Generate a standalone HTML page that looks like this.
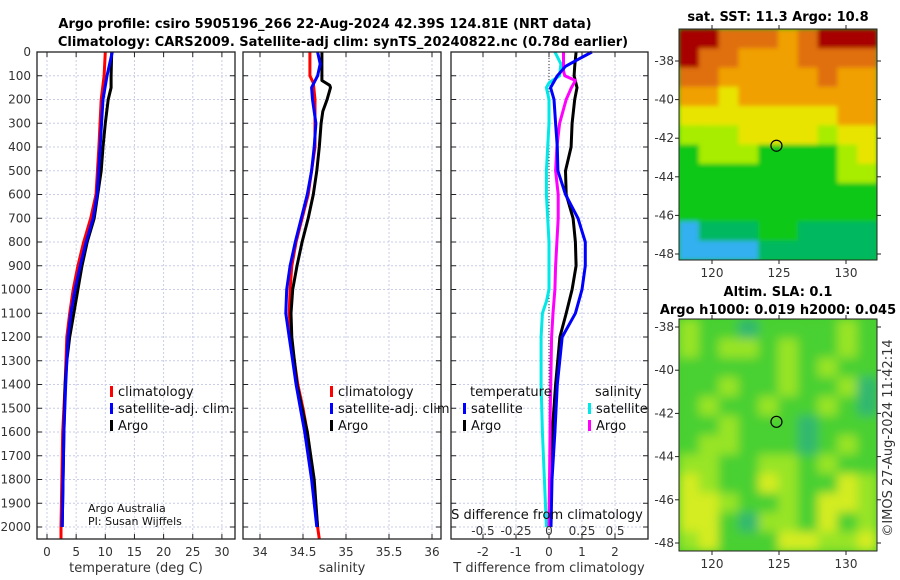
<!DOCTYPE html>
<html><head><meta charset="utf-8">
<style>
html,body{margin:0;padding:0;background:#fff;}
svg{display:block;font-family:"DejaVu Sans","Liberation Sans",sans-serif;}
.tk{font-size:12px;fill:#333;}
.lg{font-size:13px;fill:#111;}
.ttl{font-size:13px;font-weight:bold;fill:#000;}
</style></head>
<body>
<svg id="root" width="900" height="580" viewBox="0 0 900 580">
<text class="ttl" x="325" y="28" text-anchor="middle">Argo profile: csiro 5905196_266 22-Aug-2024 42.39S 124.81E (NRT data)</text>
<text class="ttl" x="343" y="46" text-anchor="middle">Climatology: CARS2009. Satellite-adj clim: synTS_20240822.nc (0.78d earlier)</text>
<g id="g1"></g>
<g id="g2"></g>
<g id="g3"></g>
<g id="m1"></g>
<g id="m2"></g>
<text class="ttl" x="778" y="21" text-anchor="middle">sat. SST: 11.3 Argo: 10.8</text>
<text class="ttl" x="778" y="296" text-anchor="middle">Altim. SLA: 0.1</text>
<text class="ttl" x="778" y="314" text-anchor="middle">Argo h1000: 0.019 h2000: 0.045</text>
<text class="tk" x="892" y="438" text-anchor="middle" transform="rotate(-90 892 438)" style="font-size:13px">©IMOS 27-Aug-2024 11:42:14</text>
</svg>
<script>
// ---- data ----
const depthsTemp = [0,100,150,200,300,400,500,600,700,800,900,1000,1100,1200,1300,1400,1600,2000];
const tempArgo   = [11.1,11.0,11.0,10.5,10.0,9.6,9.3,8.7,8.1,6.9,6.0,5.3,4.6,3.9,3.4,3.1,2.9,2.6];
const depthsClim = [0,100,200,400,600,700,800,900,1000,1100,1200,1400,1600,2000,2050];
const tempClim   = [10.0,9.8,9.3,8.9,8.4,7.5,6.3,5.3,4.5,3.9,3.4,3.1,2.7,2.4,2.4];
const depthsSat  = [0,100,200,400,600,700,800,900,1000,1100,1200,1400,1600,2000];
const tempSat    = [11.2,10.3,9.6,9.1,8.6,7.9,6.7,5.7,4.8,4.1,3.6,3.2,2.9,2.6];

const depthsSal  = [0,100,120,140,150,200,250,300,400,500,600,700,800,900,1000,1100,1200,1300,1400,1500,1600,1800,2000];
const salArgo    = [34.72,34.72,34.72,34.81,34.82,34.78,34.73,34.71,34.69,34.66,34.62,34.56,34.49,34.43,34.38,34.36,34.37,34.40,34.43,34.49,34.55,34.63,34.67];
const depthsSalC = [0,100,130,200,300,400,500,600,700,800,900,1000,1100,1200,1300,1400,1500,1600,1800,2000,2050];
const salClim    = [34.58,34.58,34.62,34.64,34.64,34.64,34.60,34.56,34.49,34.42,34.37,34.35,34.34,34.36,34.40,34.44,34.50,34.55,34.62,34.67,34.69];
const depthsSalS = [0,50,100,150,200,300,400,500,600,700,800,900,1000,1100,1200,1300,1400,1500,1600,1800,2000];
const salSat     = [34.67,34.70,34.67,34.60,34.61,34.65,34.63,34.60,34.55,34.48,34.41,34.35,34.31,34.30,34.34,34.38,34.42,34.47,34.52,34.60,34.66];

const depthsDT   = [0,30,60,100,150,200,300,400,500,600,700,800,900,1000,1100,1200,1400,1600,1800,2000];
const dTArgo     = [0.82,0.80,0.78,0.76,0.85,0.78,0.70,0.67,0.50,0.52,0.73,0.80,0.82,0.70,0.52,0.33,0.20,0.10,0.06,0.03];
const dTSat      = [1.30,0.90,0.50,0.25,0.05,0.15,0.20,0.25,0.27,0.50,0.88,1.10,1.10,1.00,0.80,0.40,0.25,0.18,0.09,0.06];
const depthsDS   = [0,80,100,120,150,200,300,400,500,600,700,800,900,1000,1100,1200,1500,2000];
const dSArgo     = [0.11,0.11,0.12,0.20,0.17,0.13,0.08,0.06,0.05,0.07,0.07,0.06,0.05,0.045,0.03,0.02,0.01,0.0];
const depthsDSs  = [0,50,100,130,150,200,300,400,500,600,700,800,900,1000,1050,1100,1200,1400,1600,2000];
const dSSat      = [0.045,0.09,0.08,0.0,-0.02,0.0,0.0,-0.01,-0.02,-0.02,-0.01,0.0,0.0,0.0,-0.02,-0.05,-0.06,-0.06,-0.05,-0.02];

const depthTicks = [0,100,200,300,400,500,600,700,800,900,1000,1100,1200,1300,1400,1500,1600,1700,1800,1900,2000];
const tempTicks  = [0,5,10,15,20,25,30];
const salTicks   = [34,34.5,35,35.5,36];
const salTickLabels = ["34","34.5","35","35.5","36"];
const dTTicks    = [-2,-1,0,1,2];
const dSTicks    = [-0.5,-0.25,0,0.25,0.5];
const dSTickLabels = ["-0.5","-0.25","0","0.25","0.5"];

const lonTicks = [120,125,130];
const latTicks = [-38,-40,-42,-44,-46,-48];
const argoLon = 124.81, argoLat = -42.39;
const sstRows = ["RROOOAORRR","ROOAAAOOOO","OOAAAAAOAA","AAYAAAAAAA","YYYYYYYYAA","LLLYYYYLYY","GLLLGGGGLY","GGGGGGGGLL","GGGGGGGGGG","GGGGGGGGGG","CEEEGGEEEE","CCCCEEEEEE"];
const slaRows = ["LGGTGGGGLG","LGLLGLGGLG","GGGGGLGLGG","GGLGGLGGLT","GLGGLGGLGT","GGLGGGTGGG","GLLGGGTGLG","LLGGLLGLGG","YLGGYLGGYL","YYLGGLGYYL","YYGTLLGYGL","LYGGGYYLLY"];

// ---- helpers ----
const NS="http://www.w3.org/2000/svg";
function mk(parent,tag,attrs,txt){const e=document.createElementNS(NS,tag);for(const k in attrs)e.setAttribute(k,attrs[k]);if(txt!==undefined)e.textContent=txt;parent.appendChild(e);return e;}
const PT=52, PB=539;
const yD = d => 52 + d*0.2375;

function panel(g,x0,x1,xs,ticks,labels,name){
  mk(g,'rect',{x:x0,y:PT,width:x1-x0,height:PB-PT,fill:'#fff'});
  depthTicks.forEach(d=>{const l=mk(g,'line',{x1:x0,x2:x1,y1:yD(d),y2:yD(d),stroke:'#c8cce8','stroke-width':1,'stroke-dasharray':'2,2'});
    
    mk(g,'line',{x1:x0,x2:x0+5,y1:yD(d),y2:yD(d),stroke:'#222'});mk(g,'line',{x1:x1-5,x2:x1,y1:yD(d),y2:yD(d),stroke:'#222'});});
  ticks.forEach((t,i)=>{const X=xs(t);mk(g,'line',{x1:X,x2:X,y1:PT,y2:PB,stroke:'#c8cce8','stroke-dasharray':'2,2'});
    mk(g,'line',{x1:X,x2:X,y1:PB-5,y2:PB,stroke:'#222'});mk(g,'line',{x1:X,x2:X,y1:PT,y2:PT+5,stroke:'#222'});
    const t2=mk(g,'text',{class:'tk',x:X,y:556,'text-anchor':'middle'},labels[i]);
    });
}
function frame(g,x0,x1){mk(g,'rect',{x:x0,y:PT,width:x1-x0,height:PB-PT,fill:'none',stroke:'#222','stroke-width':1.3});}
function line(g,xs,vals,deps,color,name,w){
  const pts=vals.map((v,i)=>xs(v).toFixed(1)+','+yD(deps[i]).toFixed(1)).join(' ');
  const p=mk(g,'polyline',{points:pts,fill:'none',stroke:color,'stroke-width':w||3,'stroke-linejoin':'round'});
  
}
function legMark(g,x,y,color){mk(g,'rect',{x:x,y:y-11,width:3,height:11,fill:color});}

// panel 1
const g1=document.getElementById('g1');
const xT = t => 47 + t*5.83;
panel(g1,37,235,xT,tempTicks,tempTicks.map(String),'temperature-axis');
line(g1,xT,tempClim,depthsClim,'#ff0000','temp-climatology-line');
line(g1,xT,tempArgo,depthsTemp,'#000','temp-argo-line');
line(g1,xT,tempSat,depthsSat,'#0000ff','temp-satellite-line');
frame(g1,37,235);
depthTicks.forEach(d=>{const t=mk(g1,'text',{class:'tk',x:31,y:yD(d)+4,'text-anchor':'end'},String(d));});
mk(g1,'text',{class:'tk',x:136,y:572,'text-anchor':'middle',style:'font-size:13px'},'temperature (deg C)');
[['#ff0000','climatology'],['#0000ff','satellite-adj. clim.'],['#000','Argo']].forEach((e,i)=>{legMark(g1,110,397+i*17,e[0]);const t=mk(g1,'text',{class:'lg',x:118,y:396+i*17},e[1]);});
mk(g1,'text',{x:88,y:512,style:'font-size:11px',fill:'#111'},'Argo Australia');
mk(g1,'text',{x:88,y:525,style:'font-size:11px',fill:'#111'},'PI: Susan Wijffels');

// panel 2
const g2=document.getElementById('g2');
const xS = s => 260 + (s-34)*86;
panel(g2,243,441,xS,salTicks,salTickLabels,'salinity-axis');
line(g2,xS,salClim,depthsSalC,'#ff0000','sal-climatology-line');
line(g2,xS,salArgo,depthsSal,'#000','sal-argo-line');
line(g2,xS,salSat,depthsSalS,'#0000ff','sal-satellite-line');
frame(g2,243,441);
mk(g2,'text',{class:'tk',x:342,y:572,'text-anchor':'middle',style:'font-size:13px'},'salinity');
[['#ff0000','climatology'],['#0000ff','satellite-adj. clim.'],['#000','Argo']].forEach((e,i)=>{legMark(g2,330,397+i*17,e[0]);const t=mk(g2,'text',{class:'lg',x:338,y:396+i*17},e[1]);});

// panel 3
const g3=document.getElementById('g3');
const xDT = t => 549 + t*33;
const xDS = s => 549 + s*132;
panel(g3,451,648,xDT,dTTicks,dTTicks.map(String),'tdiff-axis');
mk(g3,'line',{x1:549,x2:549,y1:PT,y2:PB,stroke:'#333','stroke-dasharray':'1,2'});
line(g3,xDS,dSSat,depthsDSs,'#00e8e8','sdiff-satellite-line');
line(g3,xDT,dTArgo,depthsDT,'#000','tdiff-argo-line');
line(g3,xDS,dSArgo,depthsDS,'#ff00ff','sdiff-argo-line');
line(g3,xDT,dTSat,depthsDT,'#0000ff','tdiff-satellite-line');
frame(g3,451,648);
mk(g3,'text',{class:'tk',x:549,y:572,'text-anchor':'middle',style:'font-size:13px'},'T difference from climatology');
mk(g3,'text',{class:'lg',x:547,y:519,'text-anchor':'middle'},'S difference from climatology');
dSTicks.forEach((s,i)=>{const t=mk(g3,'text',{class:'tk',x:xDS(s),y:535,'text-anchor':'middle'},dSTickLabels[i]);});
mk(g3,'text',{class:'lg',x:470,y:396},'temperature');
mk(g3,'text',{class:'lg',x:595,y:396},'salinity');
[['#0000ff','satellite',463],['#000','Argo',463],['#00e8e8','satellite',588],['#ff00ff','Argo',588]].forEach((e,i)=>{const r=i%2;legMark(g3,e[2],414+r*17,e[0]);const t=mk(g3,'text',{class:'lg',x:e[2]+8,y:413+r*17},e[1]);});

// maps
const sstCol={R:'#a80000',O:'#e07010',A:'#f0a000',Y:'#e8e400',L:'#a8ec00',G:'#10c818',E:'#00b860',C:'#30b0f0',B:'#2070f0'};
const slaCol={G:'#48d030',L:'#98e428',Y:'#d4ec20',T:'#30b870'};
function map(id,y0,y1,lat38,latPx,rows,cols,blur){
  const g=document.getElementById(id);const x0=679,x1=877;
  const cid='clip'+id;const d=mk(g,'defs',{});const cp=mk(d,'clipPath',{id:cid});mk(cp,'rect',{x:x0,y:y0,width:x1-x0,height:y1-y0});
  if(blur){const f=mk(d,'filter',{id:'bl'+id,x:'-5%',y:'-5%',width:'110%',height:'110%'});mk(f,'feGaussianBlur',{stdDeviation:blur});}
  const cg=mk(g,'g',{'clip-path':'url(#'+cid+')'});
  mk(cg,'rect',{x:x0,y:y0,width:x1-x0,height:y1-y0,fill:cols[rows[6][5]]});
  const ig=mk(cg,'g',blur?{filter:'url(#bl'+id+')'}:{});
  const cw=(x1-x0)/10,ch=(y1-y0)/rows.length;
  rows.forEach((r,ri)=>{[...r].forEach((c,ci)=>{const e=mk(ig,'rect',{x:x0+ci*cw,y:y0+ri*ch,width:cw+0.5,height:ch+0.5,fill:cols[c]});
    });});
  mk(g,'rect',{x:x0,y:y0,width:x1-x0,height:y1-y0,fill:'none',stroke:'#222'});
  const lx=lon=>712+(lon-120)*13.4, ly=lat=>lat38+(-38-lat)*latPx;
  lonTicks.forEach(l=>{mk(g,'line',{x1:lx(l),x2:lx(l),y1:y1,y2:y1+4,stroke:'#222'});mk(g,'line',{x1:lx(l),x2:lx(l),y1:y0-4,y2:y0,stroke:'#222'});
    const t=mk(g,'text',{class:'tk',x:lx(l),y:y1+17,'text-anchor':'middle'},String(l));});
  latTicks.forEach(l=>{mk(g,'line',{x1:x1,x2:x1+4,y1:ly(l),y2:ly(l),stroke:'#222'});mk(g,'line',{x1:x0-4,x2:x0,y1:ly(l),y2:ly(l),stroke:'#222'});
    const t=mk(g,'text',{class:'tk',x:674,y:ly(l)+4,'text-anchor':'end'},String(l));});
  const c=mk(g,'circle',{cx:lx(argoLon),cy:ly(argoLat),r:5.5,fill:'none',stroke:'#000','stroke-width':1.2});
  
}
map('m1',29,260,61,19.3,sstRows,sstCol,2);
map('m2',319,551,327,21.6,slaRows,slaCol,5);
</script>
</body></html>
